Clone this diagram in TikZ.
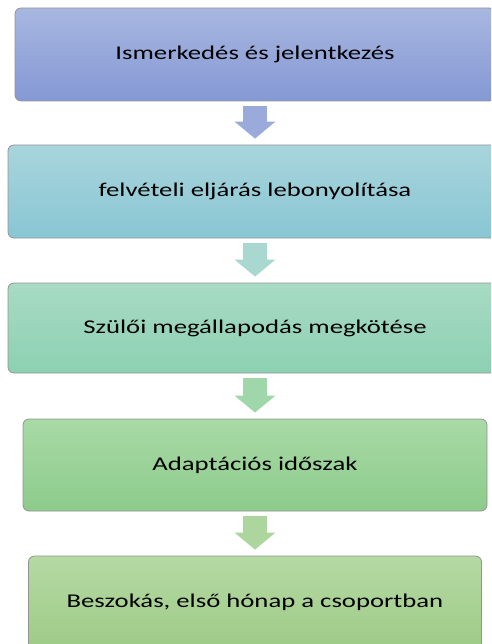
\documentclass[tikz,border=0pt]{standalone}
\usepackage{fontspec}
\setmainfont[FakeStretch=1.37]{Carlito}
\usetikzlibrary{arrows.meta}
\definecolor{ismtop}{HTML}{A8B7E0}\definecolor{ismbot}{HTML}{8498D4}
\definecolor{felvtop}{HTML}{A9D5DC}\definecolor{felvbot}{HTML}{88C6D3}
\definecolor{szultop}{HTML}{A8DBC4}\definecolor{szulbot}{HTML}{8CD0B2}
\definecolor{adapttop}{HTML}{A8DAA6}\definecolor{adaptbot}{HTML}{8DCB8B}
\definecolor{besztop}{HTML}{B5D9A3}\definecolor{beszbot}{HTML}{9ECB87}
\tikzset{
  stepbox/.style={draw=gray!85,line width=.8pt,rounded corners=6pt,
    minimum height=93pt,font=\fontsize{19.5}{23}\selectfont},
  blockarrow/.style={line width=24pt,shorten <=5pt,shorten >=6pt,
    -{Triangle[width=40pt,length=17pt]}}
}
\begin{document}
\begin{tikzpicture}[x=1pt,y=-1pt]
  \useasboundingbox (0,0) rectangle (491,644);
  \clip (0,0) rectangle (491,644);
  \node[stepbox,minimum width=480pt,top color=ismtop,bottom color=ismbot] (ism) at (255,54.5) {Ismerkedés és jelentkezés};
  \node[stepbox,minimum width=494pt,top color=felvtop,bottom color=felvbot] (felv) at (255,191.5) {felvételi eljárás lebonyolítása};
  \node[stepbox,minimum width=494pt,minimum height=90pt,top color=szultop,bottom color=szulbot] (szul) at (255,328) {Szülői megállapodás megkötése};
  \node[stepbox,minimum width=464pt,minimum height=92pt,top color=adapttop,bottom color=adaptbot] (adapt) at (255,465) {Adaptációs időszak};
  \node[stepbox,minimum width=453pt,top color=besztop,bottom color=beszbot] (besz) at (255,602.5) {Beszokás, első hónap a csoportban};
  \draw[blockarrow,draw=ismtop!60!ismbot] (ism) -- (felv);
  \draw[blockarrow,draw=felvtop!55!szultop] (felv) -- (szul);
  \draw[blockarrow,draw=adapttop!70!szulbot] (szul) -- (adapt);
  \draw[blockarrow,draw=besztop!80!adaptbot] (adapt) -- (besz);
\end{tikzpicture}
\end{document}
